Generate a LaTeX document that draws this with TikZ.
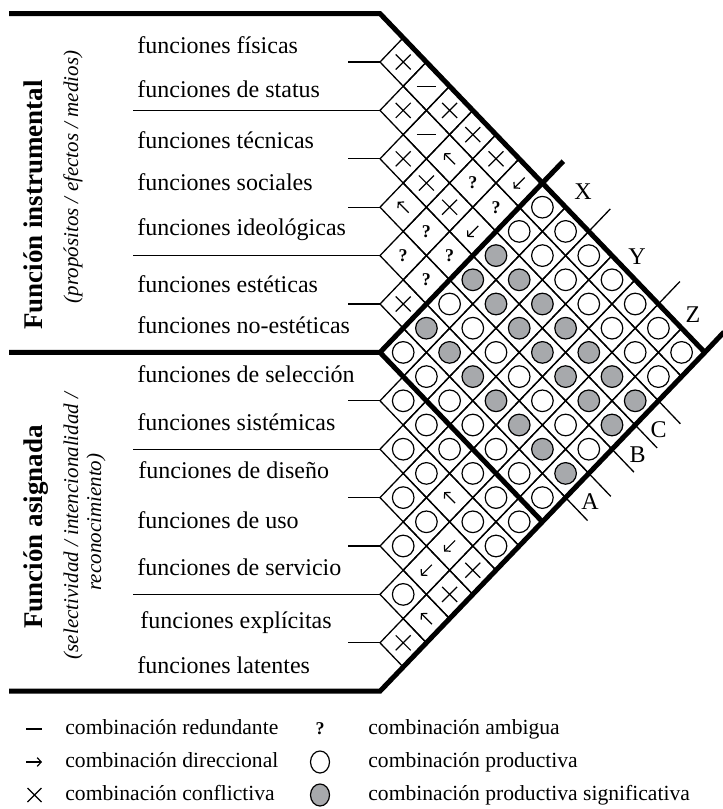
\documentclass[tikz,border=0pt]{standalone}
\usepackage{fontspec}
\setmainfont{Liberation Serif}
\usetikzlibrary{arrows.meta}

\definecolor{sig}{RGB}{167,169,172}

% symbols drawn inside one diamond cell (local origin = cell centre)
\newcommand\cellsymx{\draw[symline] (-7.5,-7.5) -- (7.5,7.5) (-7.5,7.5) -- (7.5,-7.5);}
\newcommand\cellsymr{\draw[symline] (-9.5,0) -- (9.5,0);}
\newcommand\cellsymu{\draw[symline,arr] (5.5,5.5) -- (-5.5,-5.5);}
\newcommand\cellsymd{\draw[symline,arr] (5.5,-5.5) -- (-5.5,5.5);}
\newcommand\cellsymq{\node[qmark] at (0,0) {?};}
\newcommand\cellsymo{\draw[symline] (0,0) circle[radius=10.8];}
\newcommand\cellsymg{\draw[symline,fill=sig] (0,0) circle[radius=10.8];}

\begin{document}
\begin{tikzpicture}[x=0.5pt,y=-0.5pt,
  gridline/.style={line width=0.65pt},
  symline/.style={line width=0.6pt},
  arr/.style={-{Straight Barb[length=2pt,width=4.4pt]}},
  heavy/.style={line width=2.5pt,line join=miter},
  rowrule/.style={line width=0.65pt},
  qmark/.style={font=\bfseries\fontsize{9}{10}\selectfont,inner sep=0pt},
  lbl/.style={anchor=base west,inner sep=0pt,font=\fontsize{12}{14}\selectfont},
  axis/.style={inner sep=0pt,font=\fontsize{12}{14}\selectfont},
  title/.style={rotate=90,anchor=base,inner sep=0pt,font=\bfseries\fontsize{13.5}{15}\selectfont},
  subtitle/.style={rotate=90,anchor=base,inner sep=0pt,font=\itshape\fontsize{10.5}{12}\selectfont},
  legtext/.style={anchor=base west,inner sep=0pt,font=\fontsize{10.8}{12}\selectfont}]
\useasboundingbox (0,0) rectangle (723,809);

% ---- diamond grid with the combination symbols ----
\foreach \i/\j/\t in {
  0/1/x,1/2/x,2/3/x,3/4/u,4/5/q,5/6/x,6/7/o,7/8/o,8/9/o,9/10/o,10/11/o,11/12/o,12/13/x,
  0/2/r,1/3/r,2/4/x,3/5/q,4/6/q,5/7/g,6/8/o,7/9/o,8/10/o,9/11/o,10/12/d,11/13/u,
  0/3/x,1/4/u,2/5/x,3/6/q,4/7/o,5/8/g,6/9/o,7/10/o,8/11/u,9/12/d,10/13/x,
  0/4/x,1/5/q,2/6/d,3/7/g,4/8/o,5/9/g,6/10/o,7/11/o,8/12/o,9/13/x,
  0/5/x,1/6/q,2/7/g,3/8/g,4/9/o,5/10/g,6/11/o,7/12/o,8/13/o,
  0/6/d,1/7/o,2/8/g,3/9/g,4/10/o,5/11/g,6/12/o,7/13/o,
  0/7/o,1/8/o,2/9/g,3/10/g,4/11/o,5/12/g,6/13/o,
  0/8/o,1/9/o,2/10/g,3/11/g,4/12/o,5/13/g,
  0/9/o,1/10/o,2/11/g,3/12/g,4/13/o,
  0/10/o,1/11/o,2/12/g,3/13/g,
  0/11/o,1/12/o,2/13/g,
  0/12/o,1/13/o,
  0/13/o} {
  \pgfmathsetmacro\cx{380+23.2*(\j-\i)}
  \pgfmathsetmacro\cy{37.8+24.2*(\i+\j)}
  \coordinate (c\i-\j) at (\cx,\cy);
  \draw[gridline] (\cx,\cy-24.2) -- (\cx+23.2,\cy) -- (\cx,\cy+24.2) -- (\cx-23.2,\cy) -- cycle;
  \begin{scope}[shift={(\cx,\cy)}]
    \csname cellsym\t\endcsname
  \end{scope}
}

% ---- row rules on the left ----
\foreach \y in {62,158.8,207.2,304,400.8,497.6,546,642.8}
  \draw[rowrule] (348,\y) -- (380,\y);
\foreach \y in {110.4,255.6,449.2,594.4}
  \draw[rowrule] (133,\y) -- (380,\y);

% ---- heavy frame ----
\coordinate (topL) at (9,13.6);
\coordinate (topC) at (380,13.6);
\coordinate (apex) at (704.8,352.4);
\coordinate (midL) at (9,352.4);
\coordinate (midC) at (380,352.4);
\coordinate (sqTop) at (542.4,183);
\coordinate (sqTopExt) at (563.3,161.2);
\coordinate (sqBot) at (542.4,521.8);
\coordinate (botL) at (9,691.2);
\coordinate (botC) at (380,691.2);
\coordinate (apexExt) at (724,332);
\draw[heavy] (topL) -- (topC) -- (apex);
\draw[heavy] (midL) -- (midC) -- (sqTop) -- (sqTopExt);
\draw[heavy] (midC) -- (sqBot);
\draw[heavy] (botL) -- (botC) -- (apex) -- (apexExt);

% ---- group ticks on the outer edges ----
\foreach \k in {2,5}
  \draw[gridline] (542.4+23.2*\k,183+24.2*\k) -- ++(21.5,-22.5);
\foreach \m in {8,...,12}
  \draw[gridline] (380+23.2*\m,691.2-24.2*\m) -- ++(22,23);

\node[axis] (X) at (583,192) {X};
\node[axis] (Y) at (637,257) {Y};
\node[axis] (Z) at (693,315) {Z};
\node[axis] (A) at (590,502) {A};
\node[axis] (B) at (637.5,455) {B};
\node[axis] (C) at (658.7,430) {C};

% ---- row labels ----
\node[lbl] (l0) at (137,53) {funciones físicas};
\node[lbl] (l1) at (137,97) {funciones de status};
\node[lbl] (l2) at (137,148) {funciones técnicas};
\node[lbl] (l3) at (137,190) {funciones sociales};
\node[lbl] (l4) at (137,235) {funciones ideológicas};
\node[lbl] (l5) at (137,292) {funciones estéticas};
\node[lbl] (l6) at (137,333) {funciones no-estéticas};
\node[lbl] (l7) at (137,382) {funciones de selección};
\node[lbl] (l8) at (137,430) {funciones sistémicas};
\node[lbl] (l9) at (138,478) {funciones de diseño};
\node[lbl] (l10) at (137,528) {funciones de uso};
\node[lbl] (l11) at (137,575) {funciones de servicio};
\node[lbl] (l12) at (140,628) {funciones explícitas};
\node[lbl] (l13) at (137,673) {funciones latentes};

% ---- group titles ----
\node[title] (tInst) at (42,205) {Función instrumental};
\node[subtitle] (sInst) at (78,177) {(propósitos / efectos / medios)};
\node[title] (tAsig) at (42,527) {Función asignada};
\node[subtitle] (sAsig1) at (78,526) {(selectividad / intencionalidad /};
\node[subtitle] (sAsig2) at (101,522) {reconocimiento)};

% ---- legend ----
\draw[symline] (26,729) -- (42,729);
\draw[symline,arr] (26,762) -- (42,762);
\draw[symline] (27.5,788) -- (41.5,802) (27.5,802) -- (41.5,788);
\node[qmark] (lq) at (320,729) {?};
\draw[symline] (320,762) ellipse[x radius=9.5, y radius=11];
\draw[symline,fill=sig] (320,795) ellipse[x radius=9.5, y radius=11];
\node[legtext] (g1) at (65,734) {combinación redundante};
\node[legtext] (g2) at (65,767) {combinación direccional};
\node[legtext] (g3) at (65,800) {combinación conflictiva};
\node[legtext] (g4) at (368,734) {combinación ambigua};
\node[legtext] (g5) at (368,767) {combinación productiva};
\node[legtext] (g6) at (368,800) {combinación productiva significativa};
\end{tikzpicture}
\end{document}
